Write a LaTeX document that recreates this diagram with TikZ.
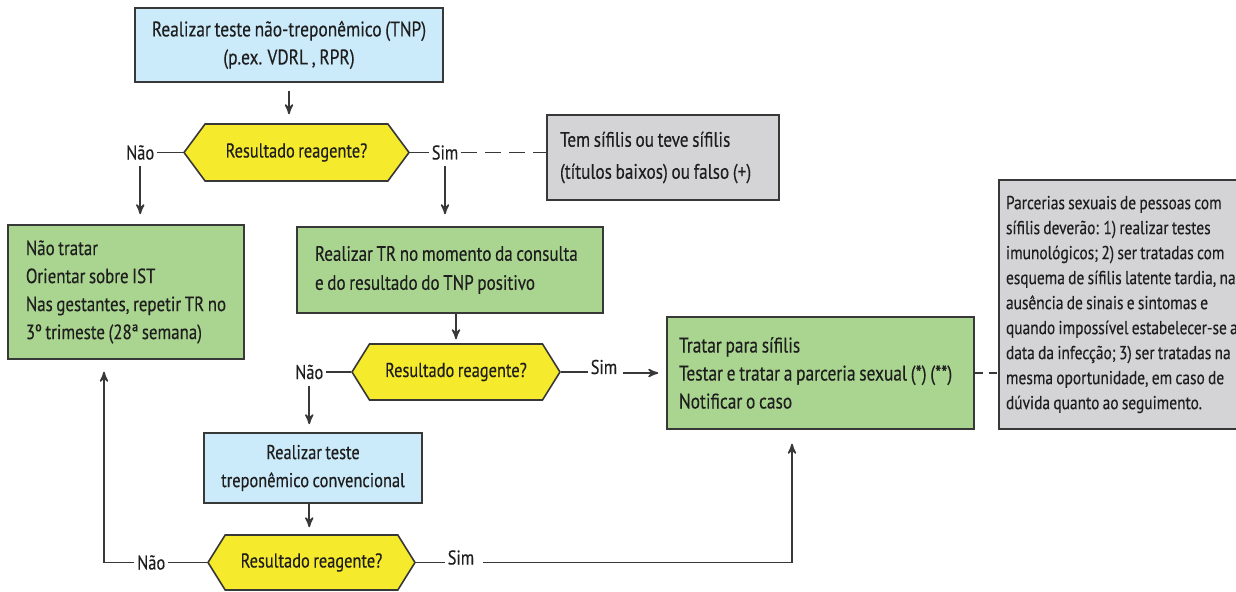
\documentclass[tikz,border=0pt]{standalone}
\usepackage{fontspec}
\setmainfont{PT Sans}[FakeStretch=0.82,WordSpace=0.8,FakeBold=0.3]
\usetikzlibrary{arrows,positioning,shapes.symbols}

\definecolor{tnpblue}{HTML}{CCEBFA}
\definecolor{boxgreen}{HTML}{AAD590}
\definecolor{hexyellow}{HTML}{F5EA2C}
\definecolor{notegray}{HTML}{D4D4D6}
\definecolor{edgegray}{HTML}{383838}
\definecolor{txt}{HTML}{1E1E1E}

\begin{document}
\begin{tikzpicture}[x=0.5pt,y=-0.5pt,->,>=stealth',line width=0.8pt,draw=edgegray]
  \tikzstyle{every node}=[font=\fontsize{10}{14}\selectfont,text=txt]
  \tikzstyle{testbox}=[draw=edgegray,fill=tnpblue,align=center]
  \tikzstyle{actbox}=[draw=edgegray,fill=boxgreen,align=flush left]
  \tikzstyle{notebox}=[draw=edgegray,fill=notegray,align=flush left]
  \tikzstyle{decision}=[draw=edgegray,fill=hexyellow,signal,signal to=east and west,signal pointer angle=116,inner sep=0pt]
  \tikzstyle{answer}=[inner sep=1pt]

  \useasboundingbox (0,0) rectangle (1236,592);

  \node[testbox,font=\fontsize{10.6}{14}\selectfont,minimum width=154pt,minimum height=37pt] (tnp) at (289,45)
       {Realizar teste não-treponêmico (TNP)\\(p.ex. VDRL , RPR)};
  \node[decision,signal pointer angle=107,minimum width=112.5pt,minimum height=28.5pt] (r1) at (296.5,152.5) {Resultado reagente?};
  \node[answer] (nao1) [left=13pt of r1]  {Não};
  \node[answer] (sim1) [right=9.5pt of r1] {Sim};
  \node[notebox,font=\fontsize{10.5}{16}\selectfont,inner xsep=6.5pt,text width=103pt,minimum height=42.5pt] (teve) at (663,157.5)
       {Tem sífilis ou teve sífilis\\(títulos baixos) ou falso (+)};

  \node[actbox,font=\fontsize{10.3}{14}\selectfont,minimum width=118pt,minimum height=67pt] (naotratar) at (126,292)
       {Não tratar\\Orientar sobre IST\\Nas gestantes, repetir TR no\\3º trimeste (28ª semana)};
  \node[actbox,font=\fontsize{10.4}{14.5}\selectfont,inner xsep=9pt,text width=135pt,minimum height=43pt] (tr) at (450,270)
       {Realizar TR no momento da consulta\\e do resultado do TNP positivo};

  \node[decision,minimum width=104pt,minimum height=28pt] (r2) at (456,372) {Resultado reagente?};
  \node[answer] (nao2) [left=12.5pt of r2] {Não};
  \node[answer] (sim2) [right=13.5pt of r2,yshift=2.5pt] {Sim};

  \node[testbox,minimum width=109pt,minimum height=35pt] (trep) at (313,468)
       {Realizar teste\\treponêmico convencional};
  \node[decision,minimum width=103.5pt,minimum height=27.5pt] (r3) at (311.5,562.5) {Resultado reagente?};
  \node[answer] (nao3) [left=19.5pt of r3] {Não};
  \node[answer] (sim3) [right=14.5pt of r3,yshift=2.5pt] {Sim};

  \node[actbox,font=\fontsize{10.6}{14}\selectfont,inner xsep=6pt,text width=141.5pt,minimum height=56pt] (tratar) at (820.5,373)
       {Tratar para sífilis\\Testar e tratar a parceria sexual (*) (**)\\Notificar o caso};
  \node[notebox,font=\fontsize{9.4}{12.5}\selectfont,inner xsep=3.5pt,text width=140pt,minimum height=124.5pt] (parcerias) at (1146,304.5)
       {Parcerias sexuais de pessoas com\\sífilis deverão: 1) realizar testes\\imunológicos; 2) ser tratadas com\\esquema de sífilis latente tardia, na\\ausência de sinais e sintomas e\\quando impossível estabelecer-se a\\data da infecção; 3) ser tratadas na\\mesma oportunidade, em caso de\\dúvida quanto ao seguimento.};

  % first test
  \draw[shorten <=4pt,shorten >=4.5pt] (tnp) -- (tnp |- r1.north);
  \draw[-] (r1.west) -- (nao1.east);
  \draw[-] (r1.east) -- (r1.east -| sim1.west);
  \draw[-,dash pattern=on 8pt off 4pt] (sim1.east |- r1.east) -- (teve.west |- r1.east);
  \draw[shorten <=1.5pt,shorten >=5pt] (nao1) -- (nao1 |- naotratar.north);
  \draw[shorten <=1.5pt,shorten >=6pt] (sim1) -- (sim1 |- tr.north);

  % rapid test
  \draw[shorten >=2pt] (tr.south -| r2) -- (r2.north);
  \draw[-] (r2.west) -- (nao2.east);
  \draw[-] (r2.east) -- (r2.east -| sim2.west);
  \draw[shorten <=1.5pt,shorten >=4pt] (sim2.east |- tratar.west) -- (tratar.west);
  \draw[shorten <=2pt,shorten >=4pt] (nao2) -- (nao2 |- trep.north);

  % treponemal test
  \draw[shorten >=3.5pt] (trep.south -| nao2) -- (nao2 |- r3.north);
  \draw[-] (r3.west) -- (nao3.east);
  \draw[-] (r3.east) -- (r3.east -| sim3.west);
  \draw[shorten <=3pt,shorten >=7pt] (sim3.east |- r3.east) -| ([xshift=-14.25pt]tratar.south);
  \draw[shorten >=6pt] (nao3.west |- r3.west) -| ([xshift=-11pt]naotratar.south);

  \draw[-,dash pattern=on 4pt off 3pt] (tratar.east) -- (parcerias.west |- tratar.east);
\end{tikzpicture}
\end{document}
